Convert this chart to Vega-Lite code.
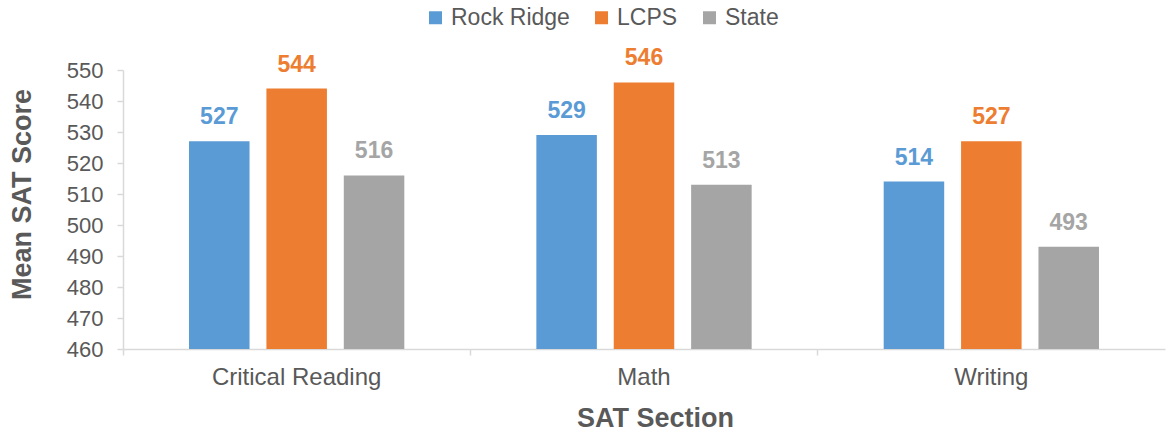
{
  "$schema": "https://vega.github.io/schema/vega-lite/v6.json",
  "width": 1042,
  "height": 279,
  "autosize": {"type": "none"},
  "padding": {"left": 123, "top": 70, "right": 2, "bottom": 83},
  "background": "white",
  "config": {
    "font": "Liberation Sans",
    "view": {"stroke": null}
  },
  "data": {
    "values": [
      {"section": "Critical Reading", "group": "Rock Ridge", "score": 527},
      {"section": "Critical Reading", "group": "LCPS", "score": 544},
      {"section": "Critical Reading", "group": "State", "score": 516},
      {"section": "Math", "group": "Rock Ridge", "score": 529},
      {"section": "Math", "group": "LCPS", "score": 546},
      {"section": "Math", "group": "State", "score": 513},
      {"section": "Writing", "group": "Rock Ridge", "score": 514},
      {"section": "Writing", "group": "LCPS", "score": 527},
      {"section": "Writing", "group": "State", "score": 493}
    ]
  },
  "encoding": {
    "x": {
      "field": "section",
      "type": "nominal",
      "sort": ["Critical Reading", "Math", "Writing"],
      "scale": {"paddingInner": 0, "paddingOuter": 0},
      "axis": {
        "title": "SAT Section",
        "titleFontSize": 27,
        "titleFontWeight": "bold",
        "titleColor": "#595959",
        "titlePadding": 16,
        "titleX": 532,
        "labelAngle": 0,
        "labelFontSize": 24,
        "labelColor": "#595959",
        "labelPadding": 10,
        "domainColor": "#d9d9d9",
        "domainWidth": 1.5,
        "tickColor": "#d9d9d9",
        "tickSize": 6,
        "tickWidth": 1.5,
        "bandPosition": 0
      }
    },
    "xOffset": {
      "field": "group",
      "type": "nominal",
      "sort": ["Rock Ridge", "LCPS", "State"],
      "scale": {"paddingInner": 0.218, "paddingOuter": 0.853}
    },
    "y": {
      "field": "score",
      "type": "quantitative",
      "scale": {"domain": [460, 550], "zero": false, "nice": false},
      "axis": {
        "title": "Mean SAT Score",
        "titleFontSize": 27,
        "titleFontWeight": "bold",
        "titleColor": "#595959",
        "titlePadding": 30,
        "titleY": 124,
        "values": [460, 470, 480, 490, 500, 510, 520, 530, 540, 550],
        "labelFontSize": 22,
        "labelColor": "#595959",
        "labelPadding": 14,
        "grid": false,
        "domainColor": "#d9d9d9",
        "domainWidth": 1.5,
        "tickColor": "#d9d9d9",
        "tickSize": 6,
        "tickWidth": 1.5
      }
    },
    "color": {
      "field": "group",
      "type": "nominal",
      "sort": ["Rock Ridge", "LCPS", "State"],
      "scale": {
        "domain": ["Rock Ridge", "LCPS", "State"],
        "range": ["#5B9BD5", "#ED7D31", "#A5A5A5"]
      },
      "legend": {
        "title": null,
        "orient": "none",
        "direction": "horizontal",
        "legendX": 301,
        "legendY": -64,
        "symbolType": "square",
        "symbolSize": 169,
        "symbolStrokeWidth": 0,
        "labelFontSize": 23,
        "labelColor": "#595959",
        "labelOffset": 4,
        "columnPadding": 20
      }
    }
  },
  "layer": [
    {"mark": {"type": "bar", "clip": true}},
    {
      "mark": {
        "type": "text",
        "baseline": "alphabetic",
        "dy": -17,
        "fontSize": 23,
        "fontWeight": "bold"
      },
      "encoding": {"text": {"field": "score", "type": "quantitative"}}
    }
  ]
}
